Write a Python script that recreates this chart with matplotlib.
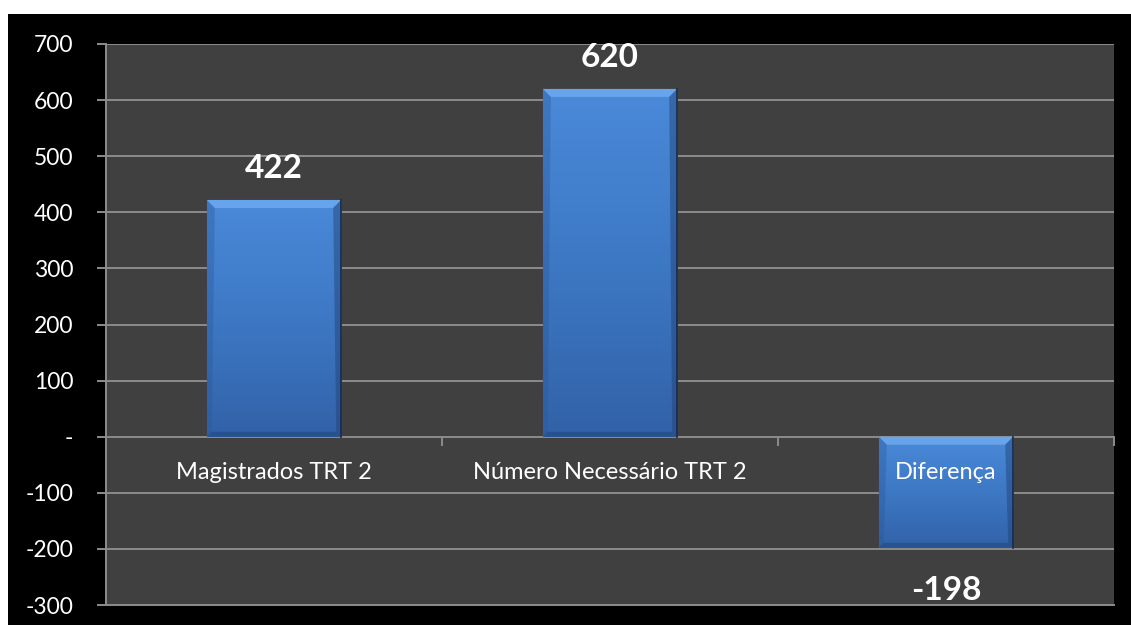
import numpy as np
import matplotlib.pyplot as plt
from matplotlib.patches import Rectangle, Polygon
from matplotlib.colors import LinearSegmentedColormap

# ==================== data ====================
categories = ['Magistrados TRT 2', 'Número Necessário TRT 2', 'Diferença']
values = [422, 620, -198]
value_labels = ['422', '620', '-198']
yticks = [700, 600, 500, 400, 300, 200, 100, 0, -100, -200, -300]
ytick_labels = ['700', '600', '500', '400', '300', '200', '100', '-', '-100', '-200', '-300']

plt.rcParams['font.family'] = ['Lato', 'DejaVu Sans']

fig = plt.figure(figsize=(11.31, 6.25), dpi=100, facecolor='white')
# black chart area (white margin on top / left)
fig.patches.append(Rectangle((8 / 1131, 0), 1 - 8 / 1131, 1 - 14 / 625,
                             transform=fig.transFigure, facecolor='black',
                             edgecolor='none', zorder=-10))

ax_w_px, ax_h_px = 1114 - 106, 605 - 44
ax = fig.add_axes([106 / 1131, 20 / 625, ax_w_px / 1131, ax_h_px / 625])
ax.set_facecolor('#404040')
xlim = (-0.5, len(categories) - 0.5)
ylim = (-300, 700)

grid_c = '#8c8c8c'
for y in yticks:
    ax.axhline(y, color=grid_c, linewidth=1.4, zorder=1)

# category separators on the zero line
for xb in np.arange(0.5, len(categories) + 0.5, 1.0):
    ax.plot([xb, xb], [0, -14], color=grid_c, linewidth=1.4, zorder=1,
            clip_on=False)

bars = ax.bar(range(len(categories)), values, width=0.4, color='#3d78c8',
              edgecolor='none', zorder=2)

# size of one pixel in data units (for the bevel)
px_x = (xlim[1] - xlim[0]) / ax_w_px
px_y = (ylim[1] - ylim[0]) / ax_h_px

cmap = LinearSegmentedColormap.from_list('blu', ['#4a8ad9', '#3d78c4', '#3262a8'])
grad = np.linspace(0, 1, 256).reshape(-1, 1)
for b in bars:
    x0, w = b.get_x(), b.get_width()
    y0, h = b.get_y(), b.get_height()
    lo, hi = min(y0, y0 + h), max(y0, y0 + h)
    x1 = x0 + w
    im = ax.imshow(grad, cmap=cmap, aspect='auto', extent=[x0, x1, lo, hi],
                   origin='upper', zorder=3)
    im.set_clip_path(b)
    tdx, tdy = 8 * px_x, 8 * px_y
    sdx, sdy = 5 * px_x, 5 * px_y
    # top bevel
    ax.add_patch(Polygon([(x0, hi), (x1, hi), (x1 - tdx, hi - tdy), (x0 + tdx, hi - tdy)],
                         closed=True, facecolor='#72aef2', edgecolor='none',
                         alpha=0.75, zorder=4))
    # left bevel
    ax.add_patch(Polygon([(x0, hi), (x0 + tdx, hi - tdy), (x0 + sdx, lo + sdy), (x0, lo)],
                         closed=True, facecolor='#2a5596', edgecolor='none',
                         alpha=0.35, zorder=4))
    # right bevel
    ax.add_patch(Polygon([(x1, hi), (x1 - tdx, hi - tdy), (x1 - sdx, lo + sdy), (x1, lo)],
                         closed=True, facecolor='#1e3f72', edgecolor='none',
                         alpha=0.45, zorder=4))
    # bottom bevel
    ax.add_patch(Polygon([(x0, lo), (x1, lo), (x1 - sdx, lo + sdy), (x0 + sdx, lo + sdy)],
                         closed=True, facecolor='#1e3f72', edgecolor='none',
                         alpha=0.45, zorder=4))
    ax.plot([x1, x1], [lo, hi], color='#142a4c', linewidth=1.2, zorder=4)

ax.set_xlim(*xlim)
ax.set_ylim(*ylim)

# value labels
for i, (v, lab) in enumerate(zip(values, value_labels)):
    off = 31 if v >= 0 else -43
    ax.annotate(lab, (i, v), xytext=(0, off), textcoords='offset pixels',
                ha='center', va='center', color='white', fontsize=24,
                fontweight='bold', zorder=5)

# category labels just below zero line
for i, c in enumerate(categories):
    ax.annotate(c, (i, 0), xytext=(0, -36), textcoords='offset pixels',
                ha='center', va='center', color='white', fontsize=17, zorder=5)

ax.set_xticks([])
ax.set_yticks(yticks)
ax.set_yticklabels(ytick_labels)
ax.tick_params(axis='y', colors='white', labelsize=16.5, length=6.5,
               width=1.4, pad=17)
ax.tick_params(axis='y', color=grid_c)
for s in ['top', 'right']:
    ax.spines[s].set_visible(False)
ax.spines['left'].set_color(grid_c)
ax.spines['left'].set_linewidth(1.4)
ax.spines['bottom'].set_color(grid_c)
ax.spines['bottom'].set_linewidth(1.4)

fig.savefig('out.png', dpi=100, facecolor='white')
